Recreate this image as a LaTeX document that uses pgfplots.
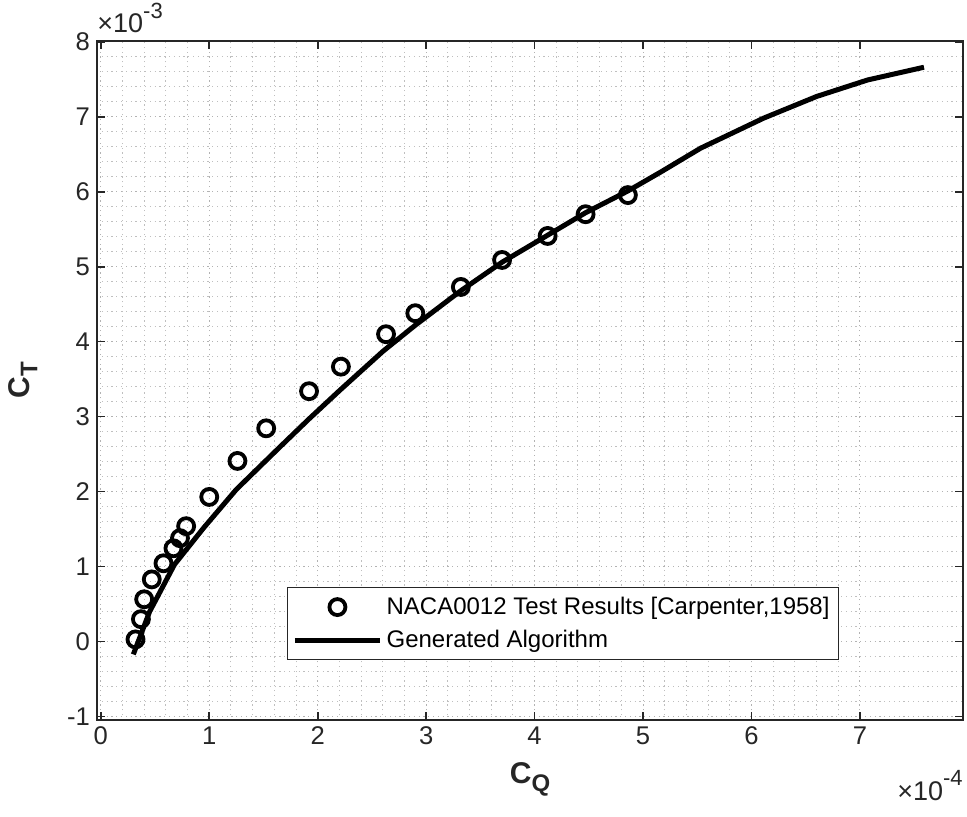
\documentclass[border=0pt]{standalone}
\usepackage{fontspec}
\setmainfont{Liberation Sans}
\usepackage{pgfplots}
\pgfplotsset{compat=1.18}
\definecolor{axgray}{RGB}{38,38,38}
\pgfplotstableread{
x y
0.32 0.03
0.37 0.30
0.40 0.565
0.47 0.83
0.578 1.045
0.67 1.245
0.73 1.38
0.787 1.54
1.00 1.93
1.26 2.41
1.525 2.845
1.92 3.34
2.214 3.667
2.63 4.10
2.90 4.38
3.32 4.73
3.70 5.09
4.12 5.41
4.47 5.70
4.86 5.955
}\testdata
\pgfplotstableread{
x y
0.30 -0.17
0.45 0.40
0.68 1.03
0.95 1.52
1.25 2.03
1.64 2.58
1.92 2.97
2.21 3.36
2.60 3.87
2.90 4.22
3.32 4.68
3.70 5.06
4.12 5.42
4.47 5.72
4.86 6.01
5.16 6.26
5.53 6.58
6.11 6.98
6.60 7.27
7.07 7.49
7.59 7.66
}\algdata
\begin{document}
\begin{tikzpicture}
\begin{axis}[
  scale only axis, width=433pt, height=339.5pt,
  xmin=-0.035, xmax=7.95, ymin=-1.045, ymax=8.01,
  xtick={0,...,7}, ytick={-1,...,8},
  minor tick num=4, minor tick length=0pt,
  tick align=inside, major tick length=4pt,
  grid=both,
  major grid style={dash pattern=on 0.6pt off 1.8pt, black!30, line width=0.5pt},
  minor grid style={dash pattern=on 0.6pt off 1.8pt, black!25, line width=0.5pt},
  axis line style={axgray, line width=0.8pt},
  every tick/.style={axgray, line width=0.8pt},
  tick label style={font=\fontsize{12.8}{14}\selectfont, text=axgray},
  /pgf/number format/assume math mode=true,
  xlabel={\fontsize{15}{17}\selectfont\bfseries C\raisebox{-0.5ex}{\fontsize{12}{13}\selectfont Q}},
  ylabel={\fontsize{15}{17}\selectfont\bfseries C\raisebox{-0.5ex}{\fontsize{12}{13}\selectfont T}},
  xlabel style={text=axgray, yshift=-2pt},
  ylabel style={text=axgray, yshift=8pt},
  legend style={at={(0.219,0.088)}, anchor=south west, draw=axgray, line width=0.6pt,
    font=\fontsize{12}{13}\selectfont, cells={anchor=west}, inner sep=2.5pt, row sep=2.5pt},
  legend image code/.code={\draw[mark repeat=2,mark phase=2,#1] plot coordinates {(0cm,0cm) (0.75cm,0cm) (1.5cm,0cm)};},
]
\addplot[only marks, mark=o, mark size=4pt, mark options={line width=1.9pt, black}] table[x=x,y=y]{\testdata};
\addlegendentry{NACA0012 Test Results [Carpenter,1958]}
\addplot[black, line width=2.5pt, no marks] table[x=x,y=y]{\algdata};
\addlegendentry{Generated Algorithm}
\end{axis}
\node[anchor=base west, inner sep=0pt, text=axgray, font=\fontsize{13.5}{15}\selectfont] at ([yshift=4pt]current axis.north west) {×10\raisebox{1.0ex}{\fontsize{11}{12}\selectfont -3}};
\node[anchor=base east, inner sep=0pt, text=axgray, font=\fontsize{13.5}{15}\selectfont] at ([yshift=-40pt]current axis.south east) {×10\raisebox{1.0ex}{\fontsize{11}{12}\selectfont -4}};
\pgfresetboundingbox
\path[use as bounding box] ([shift={(-48.5pt,-48pt)}]current axis.south west) rectangle ([shift={(2pt,20.5pt)}]current axis.north east);
\end{tikzpicture}
\end{document}
